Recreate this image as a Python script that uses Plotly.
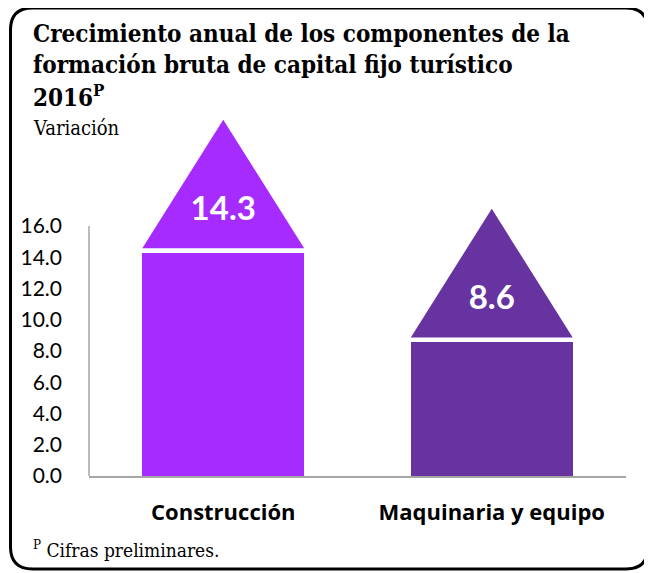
import plotly.graph_objects as go

# ---- data ----
categories = ["Construcción", "Maquinaria y equipo"]
values = [14.3, 8.6]
value_labels = ["14.3", "8.6"]
bar_colors = ["#A62BFF", "#6633A0"]
y_tick_vals = [0, 2, 4, 6, 8, 10, 12, 14, 16]
y_tick_text = ["0.0", "2.0", "4.0", "6.0", "8.0", "10.0", "12.0", "14.0", "16.0"]
title_lines = ["Crecimiento anual de los componentes de la",
               "formación bruta de capital fijo turístico",
               "2016<sup>P</sup>"]
subtitle = "Variación"
footnote = "<sup>P</sup> Cifras preliminares."

# ---- geometry (reference pixel coords; page body has an 8px offset) ----
OFF = 8
W, H = 652 - OFF, 573 - OFF
plot_l, plot_r, plot_t, plot_b = 89, 626, 109, 476
ml, mr, mt, mb = plot_l - OFF, (W + OFF) - plot_r, plot_t - OFF, (H + OFF) - plot_b
pw, ph = W - ml - mr, H - mt - mb
px_per_unit = 15.625
y_max = ph / px_per_unit
bar_w = 0.603
tri_gap = 0.27
tri_h = 8.5
label_off = 2.6


def PX(x):
    return (x - plot_l) / pw


def PY(y):
    return (plot_b - y) / ph


xs = list(range(len(categories)))
fig = go.Figure()

fig.add_trace(go.Bar(x=xs, y=values, width=bar_w, marker=dict(color=bar_colors, line=dict(width=0)),
                     hoverinfo="skip", showlegend=False))

for xi, v, c in zip(xs, values, bar_colors):
    fig.add_trace(go.Scatter(
        x=[xi - bar_w / 2, xi, xi + bar_w / 2, xi - bar_w / 2],
        y=[v + tri_gap, v + tri_h, v + tri_gap, v + tri_gap],
        fill="toself", fillcolor=c, mode="lines", line=dict(width=0, color=c),
        hoverinfo="skip", showlegend=False))

fig.add_trace(go.Scatter(
    x=xs, y=[v + label_off for v in values], mode="text", text=value_labels,
    textfont=dict(family="Lato", size=33, color="white", weight="bold"),
    hoverinfo="skip", showlegend=False))

shapes = []
# custom y-axis line from 0 to 16
shapes.append(dict(type="line", xref="paper", yref="y", x0=0, x1=0, y0=0, y1=y_tick_vals[-1],
                   line=dict(color="#A6A6A6", width=1.5)))

# rounded border
bx0, bx1, by0, by1, r = 10.5, 648, 8, 569, 22


def P(x, y):
    return f"{PX(x):.5f},{PY(y):.5f}"


path = (f"M {P(bx0 + r, by0)} L {P(bx1 - r, by0)} Q {P(bx1, by0)} {P(bx1, by0 + r)} "
        f"L {P(bx1, by1 - r)} Q {P(bx1, by1)} {P(bx1 - r, by1)} "
        f"L {P(bx0 + r, by1)} Q {P(bx0, by1)} {P(bx0, by1 - r)} "
        f"L {P(bx0, by0 + r)} Q {P(bx0, by0)} {P(bx0 + r, by0)} Z")
shapes.append(dict(type="path", xref="paper", yref="paper", path=path,
                   line=dict(color="black", width=3)))

serif = "DejaVu Serif Condensed, DejaVu Serif, serif"
annotations = []
title_y = [33, 64, 96]
for t, yy in zip(title_lines, title_y):
    annotations.append(dict(text=t, xref="paper", yref="paper", x=PX(31), y=PY(yy),
                            xanchor="left", yanchor="middle", showarrow=False,
                            font=dict(family=serif, size=24, color="black", weight="bold")))
annotations.append(dict(text=subtitle, xref="paper", yref="paper", x=PX(31), y=PY(128),
                        xanchor="left", yanchor="middle", showarrow=False,
                        font=dict(family=serif, size=20, color="black")))
annotations.append(dict(text=footnote, xref="paper", yref="paper", x=PX(31), y=PY(549),
                        xanchor="left", yanchor="middle", showarrow=False,
                        font=dict(family=serif, size=19, color="black")))

fig.update_layout(
    width=W, height=H,
    margin=dict(l=ml, r=mr, t=mt, b=mb, pad=0),
    paper_bgcolor="white", plot_bgcolor="white",
    shapes=shapes, annotations=annotations,
    bargap=0,
    xaxis=dict(range=[-0.5, 1.5], tickvals=xs, ticktext=categories, showgrid=False, zeroline=False,
               showline=True, linecolor="#A6A6A6", linewidth=1.5, ticks="",
               ticklabelstandoff=16,
               tickfont=dict(family="Open Sans", size=22, color="black", weight="bold"), fixedrange=True),
    yaxis=dict(range=[0, y_max], tickvals=y_tick_vals, ticktext=y_tick_text, showgrid=False,
               zeroline=False, showline=False, ticks="", ticklabelstandoff=26,
               tickfont=dict(family="Lato", size=21, color="black"), fixedrange=True),
)

fig.write_html("out.html")
